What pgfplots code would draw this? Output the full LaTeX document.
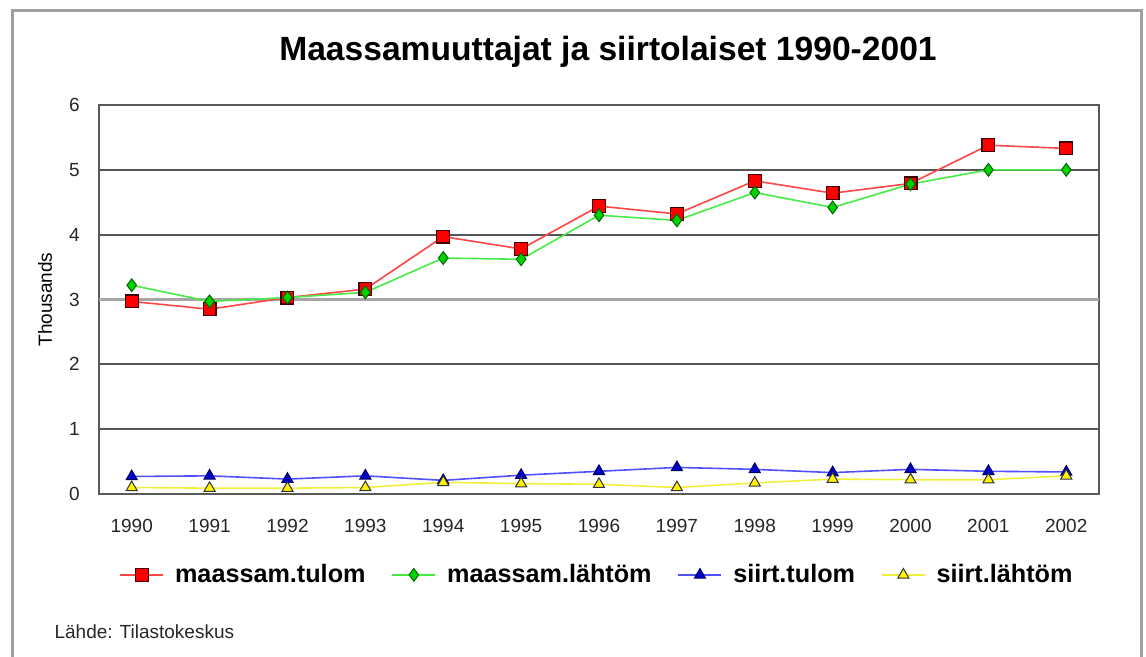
\documentclass[border=0pt]{standalone}
\usepackage{fontspec}
\setmainfont{Liberation Sans}
\usepackage{pgfplots}
\pgfplotsset{compat=1.18}
\definecolor{redline}{RGB}{255,70,70}
\definecolor{greenline}{RGB}{70,235,70}
\definecolor{blueline}{RGB}{80,80,255}
\definecolor{yellowline}{RGB}{240,240,60}
\definecolor{gridc}{RGB}{85,85,85}
\definecolor{framec}{RGB}{160,160,160}
\definecolor{markgreen}{RGB}{0,210,0}
\definecolor{markblue}{RGB}{0,0,200}

\pgfplotstableread{
year tulom lahtom stulom slahtom
1990 2.97 3.22 0.27 0.10
1991 2.85 2.97 0.28 0.09
1992 3.03 3.03 0.23 0.09
1993 3.16 3.11 0.28 0.10
1994 3.97 3.64 0.21 0.18
1995 3.78 3.62 0.29 0.16
1996 4.44 4.30 0.35 0.15
1997 4.32 4.22 0.41 0.10
1998 4.83 4.65 0.38 0.17
1999 4.64 4.42 0.33 0.23
2000 4.79 4.78 0.38 0.22
2001 5.38 5.00 0.35 0.22
2002 5.33 5.00 0.34 0.28
}\data

\begin{document}
\begin{tikzpicture}[x=0.5pt,y=0.5pt]
\path[use as bounding box] (-99,-163) rectangle (1047,494);
\draw[framec, line width=1.5pt] (-86.5,-175) -- (-86.5,483.5) -- (1042.5,483.5) -- (1042.5,-175);
\begin{axis}[
  at={(0,0)}, anchor=south west,
  scale only axis, width=500pt, height=194.5pt,
  xmin=1989.58, xmax=2002.42, ymin=0, ymax=6,
  xtick={1990,...,2002}, ytick={0,1,2,4,5,6},
  extra y ticks={3},
  extra y tick style={grid style={color=black!35, line width=1.4pt}},
  major tick length=0pt,
  ymajorgrids,
  grid style={color=gridc, line width=1pt},
  axis line style={color=black!65, line width=1pt},
  /pgf/number format/assume math mode=true,
  /pgf/number format/1000 sep={},
  tick label style={font=\fontsize{9.5pt}{11pt}\selectfont, text=black!85},
  xticklabel style={anchor=north, inner sep=0pt, yshift=-12.5pt},
  yticklabel style={anchor=east, inner sep=0pt, xshift=-9.5pt},
  ylabel={Thousands},
  ylabel style={at={(axis description cs:-0.054,0.5)}, anchor=center, font=\fontsize{9.5pt}{11pt}\selectfont},
  title={Maassamuuttajat ja siirtolaiset 1990-2001},
  title style={at={(axis description cs:0.509,1)}, anchor=base, yshift=16.5pt, font=\bfseries\fontsize{16.8pt}{19pt}\selectfont},
  clip=false,
  legend columns=4,
  legend style={at={(axis description cs:0.499,-0.208)}, anchor=center, draw=none, fill=none,
    font=\bfseries\fontsize{12.6pt}{14pt}\selectfont,
    /tikz/every odd column/.append style={column sep=3.5pt},
    /tikz/every even column/.append style={column sep=11pt}},
  legend image code/.code={\draw[mark repeat=2,mark phase=2,#1] plot coordinates {(0pt,0pt) (10.75pt,0pt) (21.5pt,0pt)};},
]
\addplot[color=redline, line width=0.8pt, mark=square*, mark size=3.2pt,
  mark options={fill=red, draw=black!75!red, line width=0.6pt, solid}] table[x=year,y=tulom]{\data};
\addlegendentry{maassam.tulom}
\addplot[color=greenline, line width=0.8pt, mark=diamond*, mark size=3.2pt,
  mark options={fill=markgreen, draw=black!60!green, line width=0.5pt, solid}] table[x=year,y=lahtom]{\data};
\addlegendentry{maassam.lähtöm}
\addplot[color=blueline, line width=0.8pt, mark=triangle*, mark size=3.2pt,
  mark options={fill=markblue, draw=black!60!blue, line width=0.5pt, solid}] table[x=year,y=stulom]{\data};
\addlegendentry{siirt.tulom}
\addplot[color=yellowline, line width=0.8pt, mark=triangle*, mark size=3.2pt,
  mark options={fill=yellow, draw=black!80, line width=0.5pt, solid}] table[x=year,y=slahtom]{\data};
\addlegendentry{siirt.lähtöm}
\end{axis}
\node[anchor=base west, font=\fontsize{9.5pt}{11pt}\selectfont, text=black!85] at (-51.5,-145) {Lähde: Tilastokeskus};
\end{tikzpicture}
\end{document}
